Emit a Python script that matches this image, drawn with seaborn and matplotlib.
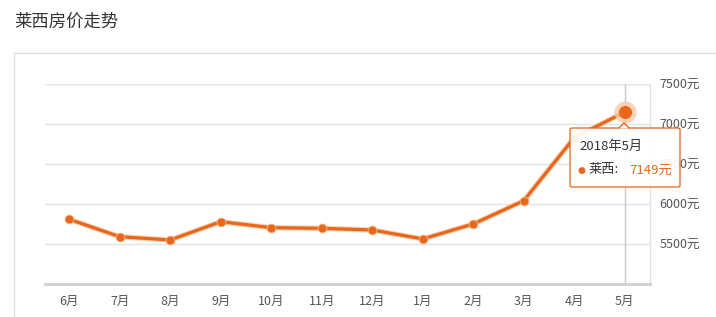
import matplotlib
matplotlib.use("Agg")
import matplotlib.pyplot as plt
import matplotlib.patheffects as pe
from matplotlib.patches import Rectangle, FancyBboxPatch, Polygon
import seaborn as sns
import pandas as pd

months = ["6月", "7月", "8月", "9月", "10月", "11月", "12月", "1月", "2月", "3月", "4月", "5月"]
prices = [5809, 5591, 5550, 5779, 5704, 5696, 5675, 5563, 5750, 6041, 6830, 7149]
y_ticks = [5500, 6000, 6500, 7000, 7500]
y_tick_labels = ["5500元", "6000元", "6500元", "7000元", "7500元"]
title = "莱西房价走势"
series_name = "莱西"
tooltip_title = "2018年5月"

sns.set_theme(style="white")
plt.rcParams["font.family"] = ["Noto Sans CJK SC", "DejaVu Sans"]

ORANGE = "#e8671c"
W, H = 716, 317
fig = plt.figure(figsize=(W / 100, H / 100), dpi=100)
fig.patch.set_facecolor("white")

# outer container border
fig.patches.append(Rectangle((14 / W, -0.2), 1.2, 1 - 53 / H + 0.2, transform=fig.transFigure,
                             fill=False, edgecolor="#e2e2e2", linewidth=1.0, zorder=0))
fig.text(14 / W, 1 - 22 / H, title, ha="left", va="center", fontsize=12.5, color="#333333")

ax = fig.add_axes([45 / W, (H - 284) / H, 605 / W, 200 / H])
ax.set_facecolor("none")

df = pd.DataFrame({"idx": range(len(months)), "price": prices})
sns.lineplot(data=df, x="idx", y="price", ax=ax, color=ORANGE, linewidth=2.3,
             sort=False, zorder=5,
             path_effects=[pe.Stroke(linewidth=3.8, foreground="#f6cfae"), pe.Normal()])
sns.scatterplot(data=df.iloc[:-1], x="idx", y="price", ax=ax, color=ORANGE, s=40,
                edgecolor="#f3b98c", linewidth=0.6, zorder=6)

# highlighted last point
last = len(months) - 1
ax.scatter([last], [prices[-1]], s=250, color="#f5c9a6", alpha=0.8, zorder=6, linewidths=0)
ax.scatter([last], [prices[-1]], s=90, color=ORANGE, zorder=7, linewidths=0)

# crosshair
ax.axvline(last, color="#c8c8c8", linewidth=1.0, zorder=1)

ax.set_xlim(-0.48, len(months) - 0.5)
ax.set_ylim(5000, 7500)
ax.set_xticks(range(len(months)))
ax.set_xticklabels(months)
ax.set_yticks(y_ticks)
ax.set_yticklabels(y_tick_labels)
ax.yaxis.tick_right()
ax.set_xlabel("")
ax.set_ylabel("")
ax.grid(axis="y", color="#e3e3e3", linewidth=1.0)
ax.grid(axis="x", visible=False)
for s in ["left", "top"]:
    ax.spines[s].set_visible(False)
ax.spines["right"].set_color("#e3e3e3")
ax.spines["right"].set_linewidth(1.0)
ax.spines["bottom"].set_color("#d0d0d0")
ax.spines["bottom"].set_linewidth(2.0)
ax.tick_params(axis="x", length=5, width=1, color="#d0d0d0", pad=3, labelsize=9, labelcolor="#555555")
ax.tick_params(axis="y", length=0, pad=7, labelsize=9, labelcolor="#555555")

# tooltip
bx0, by0, bx1, by1 = 570, 128, 680, 187
fig.patches.append(FancyBboxPatch((bx0 / W, 1 - by1 / H), (bx1 - bx0) / W, (by1 - by0) / H,
                                  boxstyle="round,pad=0,rounding_size=0.004", transform=fig.transFigure,
                                  facecolor="white", edgecolor=ORANGE, linewidth=1.0, zorder=10, alpha=0.93))
fig.patches.append(Polygon([(619 / W, 1 - 128.5 / H), (624 / W, 1 - 123 / H), (629 / W, 1 - 128.5 / H)],
                           closed=True, transform=fig.transFigure, facecolor="white",
                           edgecolor="none", zorder=11))
fig.lines.append(plt.Line2D([619 / W, 624 / W, 629 / W], [1 - 128 / H, 1 - 123 / H, 1 - 128 / H],
                            transform=fig.transFigure, color=ORANGE, linewidth=1.0, zorder=12))
fig.text(579 / W, 1 - 146 / H, tooltip_title, ha="left", va="center", fontsize=9.5, color="#333333", zorder=13)
fig.text(578 / W, 1 - 170 / H, "●", ha="left", va="center", fontsize=6.5, color=ORANGE, zorder=13,
         family=["DejaVu Sans"])
fig.text(588 / W, 1 - 170 / H, series_name + ":", ha="left", va="center", fontsize=9.5, color="#333333", zorder=13)
fig.text(672 / W, 1 - 170 / H, f"{prices[-1]}元", ha="right", va="center", fontsize=9.5, color=ORANGE, zorder=13)

fig.savefig("out.png", dpi=100, facecolor="white")
